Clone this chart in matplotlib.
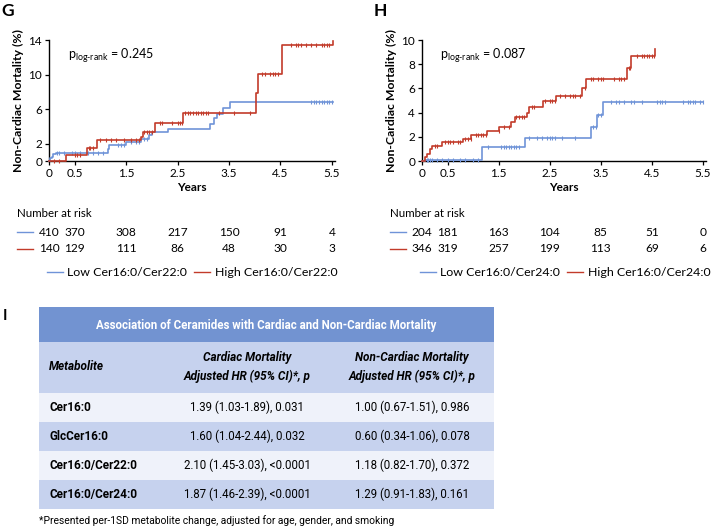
import numpy as np
import matplotlib
matplotlib.use("Agg")
import matplotlib.pyplot as plt
from matplotlib.patches import Rectangle
from matplotlib.lines import Line2D
from matplotlib.transforms import blended_transform_factory

plt.rcParams["font.family"] = ["Lato", "DejaVu Sans"]
plt.rcParams["mathtext.fontset"] = "custom"
plt.rcParams["mathtext.rm"] = "Lato"

BLUE = "#6f93d8"
RED = "#c23b2a"
NARROW = ["Liberation Sans Narrow", "Roboto"]

# ---- Panel G: Cer16:0/Cer22:0 ----
g_low_t = [0, 0.02, 0.05, 0.08, 0.13, 1.15, 1.17, 1.3, 1.5, 1.79, 1.95, 2.0, 2.31, 3.13, 3.2, 3.26, 3.39, 3.52]
g_low_v = [0, 0.3, 0.5, 0.8, 0.96, 1.4, 1.8, 1.9, 2.2, 2.6, 3.0, 3.3, 3.7, 4.25, 4.97, 5.45, 6.17, 6.86]
g_low_end = 5.52
g_low_cens = [0.15, 0.2, 0.3, 0.45, 0.5, 0.6, 0.75, 0.85, 0.95, 1.05, 1.35, 1.4, 1.45, 1.6, 1.7, 1.75,
              1.85, 1.9, 5.1, 5.15, 5.2, 5.25, 5.3, 5.35, 5.4, 5.45, 5.5]

g_high_t = [0, 0.33, 0.74, 0.93, 1.79, 1.82, 2.07, 2.6, 4.03, 4.07, 4.52, 5.52]
g_high_v = [0, 0.7, 1.54, 2.43, 2.8, 3.3, 4.36, 5.6, 7.87, 10.07, 13.4, 13.9]
g_high_end = 5.52
g_high_cens = [0.1, 0.2, 0.5, 0.55, 0.6, 0.77, 0.8, 0.85, 1.0, 1.1, 1.2, 1.3, 1.45, 1.6, 1.7, 1.75,
               1.85, 1.9, 1.95, 2.0, 2.15, 2.2, 2.4, 2.5, 2.55, 2.58, 2.65, 2.7, 2.75, 2.8, 2.85,
               2.9, 2.95, 3.0, 3.05, 3.1, 3.3, 3.6, 3.9, 4.15, 4.2, 4.3, 4.35, 4.4, 4.45, 4.7, 4.8,
               4.85, 4.9, 5.0, 5.1, 5.2, 5.3, 5.35, 5.4, 5.45]

g_risk_low = [410, 370, 308, 217, 150, 91, 4]
g_risk_high = [140, 129, 111, 86, 48, 30, 3]
g_labels = ["Low Cer16:0/Cer22:0", "High Cer16:0/Cer22:0"]
g_p = "0.245"
g_yticks = [0, 2, 6, 10, 14]

# ---- Panel H: Cer16:0/Cer24:0 ----
h_low_t = [0, 0.05, 1.17, 2.01, 3.3, 3.42, 3.54]
h_low_v = [0, 0.12, 1.18, 1.9, 2.8, 3.8, 4.88]
h_low_end = 5.5
h_low_cens = [0.1, 0.12, 0.15, 0.2, 0.3, 0.4, 0.5, 0.6, 0.75, 0.85, 1.0, 1.1, 1.3, 1.55, 1.6, 1.65,
              1.7, 1.75, 1.8, 1.85, 1.9, 2.1, 2.25, 2.35, 2.45, 2.5, 2.55, 2.6, 2.75, 3.0, 3.35,
              3.4, 3.45, 3.5, 3.7, 3.8, 3.85, 3.95, 4.1, 4.15, 4.3, 4.6, 4.65, 4.7, 4.75, 5.1,
              5.2, 5.25, 5.3, 5.35, 5.45, 5.5]

h_high_t = [0, 0.05, 0.1, 0.15, 0.2, 0.4, 0.8, 0.96, 1.28, 1.51, 1.75, 1.82, 2.05, 2.1, 2.36, 2.62,
            3.14, 3.22, 4.02, 4.1, 4.56]
h_high_v = [0, 0.3, 0.6, 1.0, 1.24, 1.54, 1.79, 2.12, 2.48, 2.8, 3.2, 3.6, 4.0, 4.43, 4.96, 5.37,
            6.0, 6.78, 7.7, 8.68, 9.26]
h_high_end = 4.56
h_high_cens = [0.25, 0.3, 0.45, 0.5, 0.55, 0.6, 0.7, 0.75, 0.85, 0.9, 0.95, 1.05, 1.1, 1.15, 1.2,
               1.25, 1.5, 1.6, 1.7, 1.85, 1.9, 1.95, 2.0, 2.15, 2.2, 2.4, 2.5, 2.55, 2.6, 2.7,
               2.8, 2.9, 2.95, 3.0, 3.1, 3.2, 3.3, 3.35, 3.45, 3.5, 3.55, 3.75, 3.85, 3.9, 3.95,
               4.05, 4.08, 4.2, 4.3, 4.35, 4.4, 4.45, 4.5, 4.55]

h_risk_low = [204, 181, 163, 104, 85, 51, 0]
h_risk_high = [346, 319, 257, 199, 113, 69, 6]
h_labels = ["Low Cer16:0/Cer24:0", "High Cer16:0/Cer24:0"]
h_p = "0.087"
h_yticks = [0, 2, 4, 6, 8, 10]

risk_times = [0, 0.5, 1.5, 2.5, 3.5, 4.5, 5.5]
xticks = [0, 0.5, 1.5, 2.5, 3.5, 4.5, 5.5]

# ---- Panel I: table ----
tbl_title = "Association of Ceramides with Cardiac and Non-Cardiac Mortality"
tbl_cols = ["Metabolite", "Cardiac Mortality\nAdjusted HR (95% CI)*, p",
            "Non-Cardiac Mortality\nAdjusted HR (95% CI)*, p"]
tbl_names = ["Cer16:0", "GlcCer16:0", "Cer16:0/Cer22:0", "Cer16:0/Cer24:0"]
tbl_cardiac = ["1.39 (1.03-1.89), 0.031", "1.60 (1.04-2.44), 0.032",
               "2.10 (1.45-3.03), <0.0001", "1.87 (1.46-2.39), <0.0001"]
tbl_noncardiac = ["1.00 (0.67-1.51), 0.986", "0.60 (0.34-1.06), 0.078",
                  "1.18 (0.82-1.70), 0.372", "1.29 (0.91-1.83), 0.161"]
footnote = "*Presented per-1SD metabolite change, adjusted for age, gender, and smoking"

W, H = 712, 529
fig = plt.figure(figsize=(W / 100, H / 100), dpi=100)


def fx(px):
    return px / W


def fy(py):
    return 1 - py / H


def km_panel(left_px, right_px, letter, low, high, cens, ends, risk, labels, pval, yticks, ymax):
    ax = fig.add_axes([fx(left_px), fy(161), fx(right_px - left_px), (161 - 40) / H])
    for (t, v), c, end, col in zip([low, high], cens, ends, [BLUE, RED]):
        t = np.asarray(t)
        v = np.asarray(v)
        ax.step(np.append(t, end), np.append(v, v[-1]), where="post", color=col, lw=1.2,
                clip_on=False, zorder=3)
        c = np.asarray(c)
        idx = np.searchsorted(t, c, side="right") - 1
        ax.plot(c, v[idx], ls="none", marker="|", ms=3.5, mew=0.8, color=col, clip_on=False, zorder=3)
    ax.set_xlim(0, 5.56)
    ax.set_ylim(0, ymax)
    ax.set_xticks(xticks)
    ax.set_xticklabels(["0" if x == 0 else f"{x:g}" for x in xticks])
    ax.set_yticks(yticks)
    for s in ["top", "right"]:
        ax.spines[s].set_visible(False)
    for s in ["left", "bottom"]:
        ax.spines[s].set_linewidth(1.0)
    ax.tick_params(labelsize=8.5, length=3, width=0.9, pad=2)
    ax.set_xlabel("Years", fontsize=8.5, fontweight="bold", labelpad=2)
    ax.set_ylabel("Non-Cardiac Mortality (%)", fontsize=8.8, fontweight="bold", labelpad=3)
    ax.text(0.065, 0.87, r"p$_{\mathrm{log}\text{-}\mathrm{rank}}$ = " + pval, transform=ax.transAxes,
            fontsize=9, va="center")
    fig.text(fx(left_px - 48), fy(11), letter, fontsize=12.5, fontweight="bold", va="center")

    # number at risk
    tr = blended_transform_factory(ax.transData, fig.transFigure)
    fig.text(fx(left_px - 32), fy(213), "Number at risk", fontsize=8.3, va="center")
    for row, y_px, col in zip(risk, [232, 249], [BLUE, RED]):
        fig.add_artist(Line2D([fx(left_px - 32), fx(left_px - 16)], [fy(y_px), fy(y_px)],
                              color=col, lw=1))
        for xt, n in zip(risk_times, row):
            ax.text(xt, fy(y_px), str(n), transform=tr, fontsize=8.6, ha="center", va="center")

    # legend
    lx = left_px - 2
    fig.add_artist(Line2D([fx(lx), fx(lx + 16)], [fy(272), fy(272)], color=BLUE, lw=1))
    fig.text(fx(lx + 20), fy(272), labels[0], fontsize=8.9, va="center")
    lx2 = lx + 147
    fig.add_artist(Line2D([fx(lx2), fx(lx2 + 16)], [fy(272), fy(272)], color=RED, lw=1))
    fig.text(fx(lx2 + 21), fy(272), labels[1], fontsize=8.9, va="center")
    return ax


km_panel(49, 335, "G", (g_low_t, g_low_v), (g_high_t, g_high_v), (g_low_cens, g_high_cens),
         (g_low_end, g_high_end), (g_risk_low, g_risk_high), g_labels, g_p, g_yticks, 14)
km_panel(422, 706, "H", (h_low_t, h_low_v), (h_high_t, h_high_v), (h_low_cens, h_high_cens),
         (h_low_end, h_high_end), (h_risk_low, h_risk_high), h_labels, h_p, h_yticks, 10)

# ---- table drawn in pixel space ----
tax = fig.add_axes([0, 0, 1, 1])
tax.set_xlim(0, W)
tax.set_ylim(H, 0)
tax.axis("off")

TL, TR = 39, 494
HEAD = "#7293d1"
SUB = "#c6d2ee"
LIGHT = "#eff2fa"
row_h = 29
tax.add_patch(Rectangle((TL, 307), TR - TL, 35, color=HEAD, lw=0))
tax.add_patch(Rectangle((TL, 342), TR - TL, 51, color=SUB, lw=0))
tax.text((TL + TR) / 2, 325, tbl_title, color="white", fontsize=8.3, fontweight="bold",
         ha="center", va="center", family=NARROW)
col_x = [49, 247, 412]
tax.text(col_x[0], 367, tbl_cols[0], fontsize=8.5, fontweight="bold", style="italic",
         va="center", family=NARROW)
for cx, lab in zip(col_x[1:], tbl_cols[1:]):
    tax.text(cx, 367, lab, fontsize=8.5, fontweight="bold", style="italic", ha="center",
             va="center", linespacing=1.5, family=NARROW)
for i, (nm, c1, c2) in enumerate(zip(tbl_names, tbl_cardiac, tbl_noncardiac)):
    y0 = 393 + i * row_h
    tax.add_patch(Rectangle((TL, y0), TR - TL, row_h, color=LIGHT if i % 2 == 0 else SUB, lw=0))
    yc = y0 + row_h / 2
    tax.text(col_x[0], yc, nm, fontsize=8.5, fontweight="bold", va="center", family=NARROW)
    tax.text(col_x[1], yc, c1, fontsize=8.3, ha="center", va="center", family=NARROW)
    tax.text(col_x[2], yc, c2, fontsize=8.3, ha="center", va="center", family=NARROW)
tax.text(TL, 521, footnote, fontsize=7.4, va="center", family=NARROW)
tax.text(3, 316, "I", fontsize=11, fontweight="bold", va="center")

fig.savefig("out.png", dpi=100)
